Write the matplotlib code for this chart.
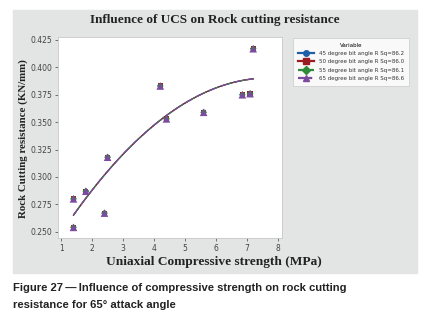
import numpy as np
import matplotlib
matplotlib.use("Agg")
import matplotlib.pyplot as plt
from matplotlib.patches import Rectangle

ucs = [1.4, 1.4, 1.8, 2.4, 2.5, 4.2, 4.4, 5.6, 6.85, 7.1, 7.2]
resistance = [0.280, 0.254, 0.287, 0.267, 0.318, 0.383, 0.353, 0.359, 0.375, 0.376, 0.417]

series = ["45 degree bit angle R Sq=86.2",
          "50 degree bit angle R Sq=86.0",
          "55 degree bit angle R Sq=86.1",
          "65 degree bit angle R Sq=86.6"]
colors = ["#1f5fa8", "#9b1c23", "#2e8b3a", "#7b4b9e"]
markers = ["o", "s", "D", "^"]
marker_sizes = [14, 14, 12, 30]
styles = ["-", "-", "--", "-."]

xticks = [1, 2, 3, 4, 5, 6, 7, 8]
yticks = [0.250, 0.275, 0.300, 0.325, 0.350, 0.375, 0.400, 0.425]

fig = plt.figure(figsize=(4.21, 3.33), dpi=100)
fig.add_artist(Rectangle((13 / 421, 1 - 273 / 333), 404 / 421, 263 / 333,
                         transform=fig.transFigure, color="#e3e4e4", zorder=-1))

ax = fig.add_axes([58 / 421, 1 - 238 / 333, 224 / 421, 201 / 333])
ax.set_zorder(1)
ax.set_facecolor("white")

xfit = np.linspace(min(ucs), max(ucs), 60)
coef = np.polyfit(ucs, resistance, 2)
for name, c, m, ms, ls in zip(series, colors, markers, marker_sizes, styles):
    ax.scatter(ucs, resistance, color=c, marker=m, s=ms, zorder=3, edgecolors="none")
    ax.plot(xfit, np.polyval(coef, xfit), color=c, lw=0.9, ls=ls, zorder=2)
    ax.plot([], [], color=c, marker=m, ls=ls, lw=1.6, ms=4, label=name)

ax.set_xlim(0.9, 8.13)
ax.set_ylim(0.2443, 0.4277)
ax.set_xticks(xticks)
ax.set_yticks(yticks)
ax.set_yticklabels([f"{v:.3f}" for v in yticks])
ax.tick_params(labelsize=5.5, length=2, width=0.5, colors="#444444", pad=2)
for s in ax.spines.values():
    s.set_color("#c8c8c8")
    s.set_linewidth(0.6)

fig.text(0.5 * (13 + 417) / 421, 1 - 20 / 333, "Influence of UCS on Rock cutting resistance",
         ha="center", va="center", family="Liberation Serif", fontweight="bold", fontsize=9.5,
         color="#222222")
fig.text(214 / 421, 1 - 262 / 333, "Uniaxial Compressive strength (MPa)",
         ha="center", va="center", family="Liberation Serif", fontweight="bold",
         fontsize=9.6, color="#222222")
fig.text(23 / 421, 1 - 139 / 333, "Rock Cutting resistance (KN/mm)", rotation=90,
         ha="center", va="center", family="Liberation Serif", fontweight="bold",
         fontsize=7.8, color="#222222")

leg = fig.legend(loc="upper left", bbox_to_anchor=(290 / 421, 1 - 35 / 333),
                 title="Variable", fontsize=4.0, title_fontsize=4.0, frameon=True,
                 fancybox=False, handlelength=3, borderpad=0.9, labelspacing=0.6)
leg.get_frame().set_edgecolor("#c8c8c8")
leg.get_frame().set_linewidth(0.6)
for t in leg.get_texts():
    t.set_color("#333333")

fig.text(13 / 421, 1 - 288 / 333, "Figure 27\u2009\u2014\u2009Influence of compressive strength on rock cutting",
         fontsize=8.1, fontweight="bold", family="Liberation Sans", color="#222222", va="center")
fig.text(13 / 421, 1 - 305 / 333, "resistance for 65\u00b0 attack angle",
         fontsize=8.1, fontweight="bold", family="Liberation Sans", color="#222222", va="center")

fig.savefig("out.png", dpi=100)
